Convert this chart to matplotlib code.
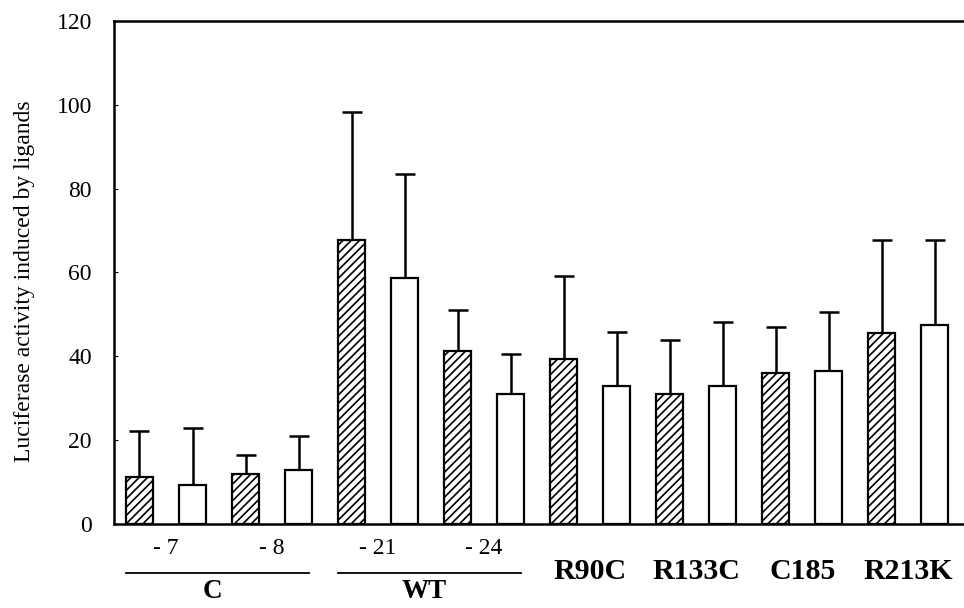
import numpy as np
import matplotlib
matplotlib.use("Agg")
import matplotlib.pyplot as plt
import matplotlib.transforms as mtransforms

# values (mean, and length of the upper error bar)
samples = ["- 7", "- 8", "- 21", "- 24", "R90C", "R133C", "C185", "R213K"]
hatched_mean = [11.2, 12.0, 67.7, 41.2, 39.3, 30.9, 36.1, 45.6]
hatched_err = [11.0, 4.4, 30.7, 9.8, 19.9, 12.9, 10.8, 22.1]
open_mean = [9.4, 12.8, 58.6, 30.9, 32.9, 32.9, 36.5, 47.5]
open_err = [13.5, 8.2, 24.8, 9.7, 12.8, 15.4, 14.1, 20.2]

# bracketed groups under the axis: (label, first sample, last sample)
groups = [("C", 0, 1), ("WT", 2, 3)]
yticks = [0, 20, 40, 60, 80, 100, 120]

plt.rcParams["font.family"] = ["Liberation Serif", "DejaVu Serif"]
plt.rcParams["hatch.linewidth"] = 1.2

fig = plt.figure(figsize=(9.64, 6.08), dpi=100)
ax = fig.add_axes([0.1183, 0.1382, 0.8807, 0.8273])

n = len(samples)
x_hatch = np.arange(n) * 2
x_open = x_hatch + 1
width = 0.51

ax.bar(x_hatch, hatched_mean, width, color="white", edgecolor="black",
       linewidth=1.6, hatch="////", zorder=2)
ax.bar(x_open, open_mean, width, color="white", edgecolor="black",
       linewidth=1.6, zorder=2)
for xs, m, e in [(x_hatch, hatched_mean, hatched_err), (x_open, open_mean, open_err)]:
    ax.errorbar(xs, m, yerr=[np.zeros(n), e], fmt="none", ecolor="black",
                elinewidth=1.8, capsize=7, capthick=1.8, zorder=1)

ax.set_xlim(-0.48, 15.53)
ax.set_ylim(0, 120)
ax.set_yticks(yticks)
ax.tick_params(axis="y", direction="in", length=3, width=0.8, pad=16, labelsize=17)
ax.set_xticks([])
for side in ["left", "bottom", "top"]:
    ax.spines[side].set_linewidth(1.8)
ax.spines["right"].set_visible(False)

trans = mtransforms.blended_transform_factory(ax.transData, ax.transAxes)
centers = (x_hatch + x_open) / 2
grouped = set()
for label, a, b in groups:
    grouped.update(range(a, b + 1))
    x0 = x_hatch[a] - 0.25
    x1 = x_open[b] + 0.2
    ax.plot([x0, x1], [-0.097, -0.097], color="black", lw=1.3,
            transform=trans, clip_on=False)
    ax.text((x0 + x1) / 2 - 0.1, -0.135, label, transform=trans, ha="center",
            va="center", fontsize=19.5, fontweight="bold")

for i, s in enumerate(samples):
    if i in grouped:
        ax.text(centers[i], -0.048, s, transform=trans, ha="center",
                va="center", fontsize=17)
    else:
        ax.text(centers[i], -0.095, s, transform=trans, ha="center",
                va="center", fontsize=21.5, fontweight="bold")

fig.text(0.025, 0.538, "Luciferase activity induced by ligands", rotation=90,
         ha="center", va="center", fontsize=17)

fig.savefig("out.png", dpi=100)
